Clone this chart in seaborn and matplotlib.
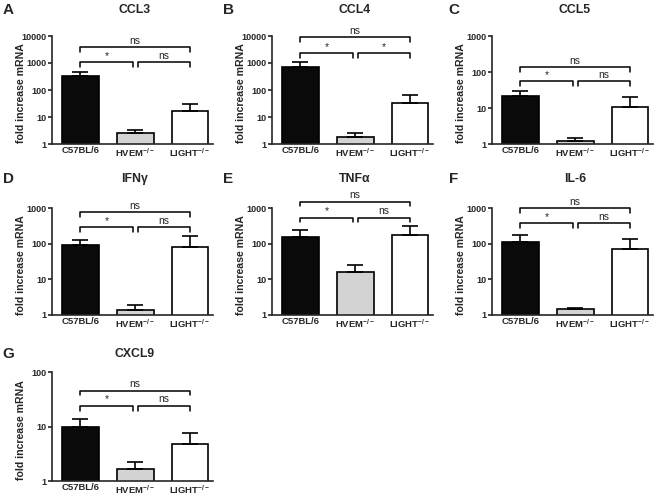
import numpy as np
import pandas as pd
import matplotlib
matplotlib.use("Agg")
import matplotlib.pyplot as plt
import matplotlib.transforms as mtransforms
from matplotlib.ticker import FuncFormatter, NullLocator
import seaborn as sns

# data (mean and upper SEM per genotype)
genotypes = ["C57BL/6", "HVEM", "LIGHT"]
xlabels = ["C57BL/6", r"HVEM$^{-/-}$", r"LIGHT$^{-/-}$"]
genes = ["CCL3", "CCL4", "CCL5", "IFNγ", "TNFα", "IL-6", "CXCL9"]
letters = ["A", "B", "C", "D", "E", "F", "G"]

ccl3_mean = [330, 2.6, 16]
ccl3_sem = [150, 0.8, 15]
ccl4_mean = [740, 1.8, 33]
ccl4_sem = [310, 0.7, 33]
ccl5_mean = [22, 1.24, 10.5]
ccl5_sem = [7.5, 0.26, 9.5]
ifng_mean = [90, 1.4, 83]
ifng_sem = [36, 0.5, 80]
tnfa_mean = [150, 16, 175]
tnfa_sem = [85, 10, 145]
il6_mean = [114, 1.44, 71]
il6_sem = [61, 0.13, 64]
cxcl9_mean = [10, 1.65, 4.7]
cxcl9_sem = [3.8, 0.55, 2.9]

means = [ccl3_mean, ccl4_mean, ccl5_mean, ifng_mean, tnfa_mean, il6_mean, cxcl9_mean]
sems = [ccl3_sem, ccl4_sem, ccl5_sem, ifng_sem, tnfa_sem, il6_sem, cxcl9_sem]
ymax_exp = [4, 4, 3, 3, 3, 3, 2]

# significance: (C57 vs HVEM, HVEM vs LIGHT, C57 vs LIGHT)
sig = [("*", "ns", "ns"), ("*", "*", "ns"), ("*", "ns", "ns"), ("*", "ns", "ns"),
       ("*", "ns", "ns"), ("*", "ns", "ns"), ("*", "ns", "ns")]

rows = []
for g, m, s in zip(genes, means, sems):
    for gt, mv, sv in zip(genotypes, m, s):
        rows.append({"gene": g, "genotype": gt, "mean": mv, "sem": sv})
df = pd.DataFrame(rows)

sns.set_style("ticks")
plt.rcParams["font.family"] = ["Liberation Sans", "DejaVu Sans"]
plt.rcParams["mathtext.fontset"] = "custom"
plt.rcParams["mathtext.rm"] = "Liberation Sans:bold"
plt.rcParams["mathtext.bf"] = "Liberation Sans:bold"
plt.rcParams["mathtext.default"] = "bf"

W, H = 661, 498
fig = plt.figure(figsize=(W / 100, H / 100), dpi=100)

col_left = [52, 272, 492]
row_box = [(36, 144), (208, 315), (372, 481)]
title_y = [10, 179, 354]
letter_x = [8, 228, 454]
# bracket heights in axes fraction (lower, upper)
bracket_y = [(0.76, 0.90), (0.84, 0.99), (0.58, 0.71), (0.82, 0.96),
             (0.91, 1.06), (0.86, 1.00), (0.69, 0.83)]

palette = {"C57BL/6": "#0a0a0a", "HVEM": "#d3d3d3", "LIGHT": "#ffffff"}

for i, gene in enumerate(genes):
    r, c = divmod(i, 3)
    top, bot = row_box[r]
    ax = fig.add_axes([col_left[c] / W, (H - bot) / H, 161 / W, (bot - top) / H])
    sub = df[df["gene"] == gene]
    sns.barplot(data=sub, x="genotype", y="mean", hue="genotype", palette=palette,
                order=genotypes, hue_order=genotypes, width=0.67, edgecolor="black",
                linewidth=1.2, legend=False, errorbar=None, ax=ax)
    ax.errorbar(np.arange(3), sub["mean"].values,
                yerr=[np.zeros(3), sub["sem"].values], fmt="none", ecolor="black",
                elinewidth=1.2, capsize=5.5, capthick=1.2, zorder=3)
    ax.set_yscale("log")
    ax.set_ylim(1, 10 ** ymax_exp[i])
    ax.set_xlim(-0.52, 2.42)
    ax.set_yticks([10 ** k for k in range(ymax_exp[i] + 1)])
    ax.yaxis.set_minor_locator(NullLocator())
    ax.yaxis.set_major_formatter(FuncFormatter(lambda v, _: f"{v:g}"))
    ax.set_xticks([0, 1, 2])
    ax.set_xticklabels(xlabels, fontsize=6.8, fontweight="bold")
    for lab in ax.get_yticklabels():
        lab.set_fontweight("bold")
        lab.set_fontsize(6.5)
    ax.tick_params(axis="x", length=0, pad=1.5)
    ax.tick_params(axis="y", length=3, width=1.2, pad=1)
    ax.set_xlabel("")
    ax.set_ylabel("fold increase mRNA", fontsize=7.6, fontweight="bold")
    ax.yaxis.set_label_coords(-0.16, 0.47)
    sns.despine(ax=ax)
    for sp in ["left", "bottom"]:
        ax.spines[sp].set_linewidth(1.2)

    # significance brackets
    tr = mtransforms.blended_transform_factory(ax.transData, ax.transAxes)
    lo, hi = bracket_y[i]
    drop = 0.045
    spans = [(0, 0.955, lo, sig[i][0]), (1.045, 2, lo, sig[i][1]), (0, 2, hi, sig[i][2])]
    for x0, x1, yb, txt in spans:
        ax.plot([x0, x0, x1, x1], [yb - drop, yb, yb, yb - drop], color="black",
                lw=1.1, transform=tr, clip_on=False)
        ax.text((x0 + x1) / 2, yb + 0.012, txt, ha="center", va="bottom",
                fontsize=7.4, transform=tr, clip_on=False)

    fig.text((col_left[c] + 83) / W, 1 - title_y[r] / H, gene, ha="center",
             va="center", fontsize=8.8, fontweight="bold")
    fig.text(letter_x[c] / W, 1 - title_y[r] / H, letters[i], ha="center",
             va="center", fontsize=11, fontweight="bold")

fig.savefig("out.png", dpi=100)
